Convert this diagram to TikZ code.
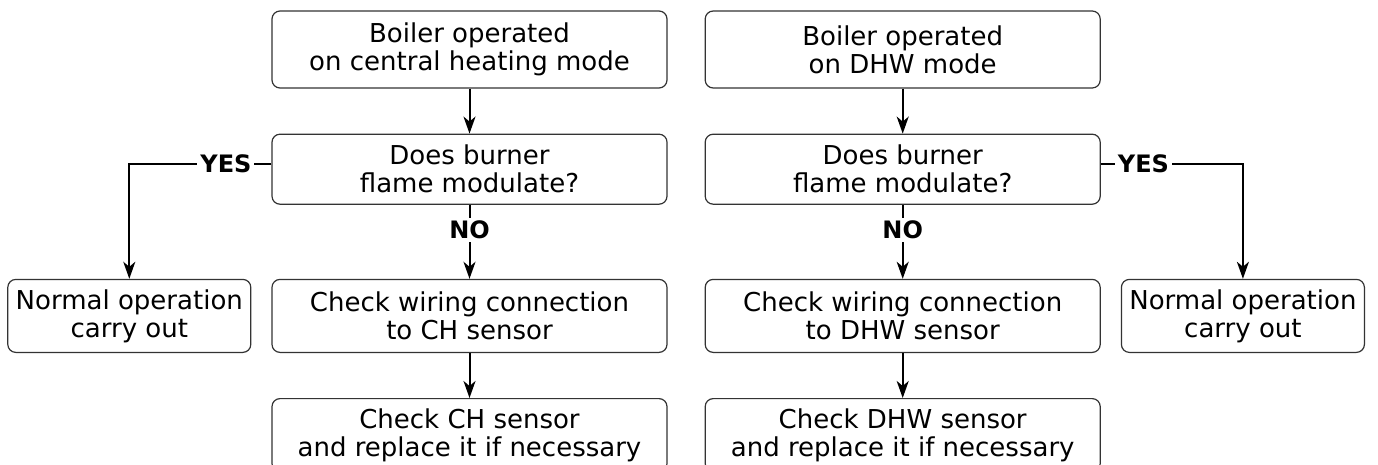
\documentclass[tikz,border=0pt]{standalone}
\usepackage{fontspec}
\setmainfont{DejaVu Sans}
\usepackage{tikz}
\usetikzlibrary{arrows.meta, positioning}
\tikzset{
    baseblock/.style={rectangle, draw=black!80, line width=1.2pt, rounded corners=8pt, align=center, inner sep=2pt, font=\fontsize{26}{28}\selectfont},
    topblock/.style={baseblock, minimum width=395pt, minimum height=77pt},
    askblock/.style={baseblock, minimum width=395pt, minimum height=70pt},
    checkblock/.style={baseblock, minimum width=395pt, minimum height=73pt},
    normalblock/.style={baseblock, minimum width=243pt, minimum height=73pt},
    answer/.style={fill=white, inner sep=3pt, font=\bfseries\fontsize{24}{26}\selectfont},
    arrow/.style={line width=2pt, -{Stealth[length=17pt, width=12pt, inset=5pt]}, color=black}
}
\begin{document}
\begin{tikzpicture}[x=1pt, y=1pt, node distance=45pt]
    \useasboundingbox (0,0) rectangle (1378,464);
    \clip (0,0) rectangle (1378,464);

    % central heating side
    \node (chtop) [topblock] at (469.5,414.5) {Boiler operated\\on central heating mode};
    \node (chask) [askblock, below=45pt of chtop] {Does burner\\flame modulate?};
    \node (chwire) [checkblock, below=74pt of chask] {Check wiring connection\\to CH sensor};
    \node (chsensor) [checkblock, below=of chwire] {Check CH sensor\\and replace it if necessary};
    \node (chnormal) [normalblock, left=20pt of chwire] {Normal operation\\carry out};

    % DHW side
    \node (dhwtop) [topblock, right=37pt of chtop] {Boiler operated\\on DHW mode};
    \node (dhwask) [askblock, below=45pt of dhwtop] {Does burner\\flame modulate?};
    \node (dhwwire) [checkblock, below=74pt of dhwask] {Check wiring connection\\to DHW sensor};
    \node (dhwsensor) [checkblock, below=of dhwwire] {Check DHW sensor\\and replace it if necessary};
    \node (dhwnormal) [normalblock, right=20pt of dhwwire] {Normal operation\\carry out};

    \draw [arrow] (chtop) -- (chask);
    \draw [arrow] (chask) -- node[answer, pos=0.34] {NO} (chwire);
    \draw [arrow] (chwire) -- (chsensor);
    \draw [arrow] ([yshift=5pt]chask.west) -| node[answer, pos=0.16] {YES} (chnormal.north);

    \draw [arrow] (dhwtop) -- (dhwask);
    \draw [arrow] (dhwask) -- node[answer, pos=0.34] {NO} (dhwwire);
    \draw [arrow] (dhwwire) -- (dhwsensor);
    \draw [arrow] ([yshift=5pt]dhwask.east) -| node[answer, pos=0.15] {YES} (dhwnormal.north);
\end{tikzpicture}
\end{document}
